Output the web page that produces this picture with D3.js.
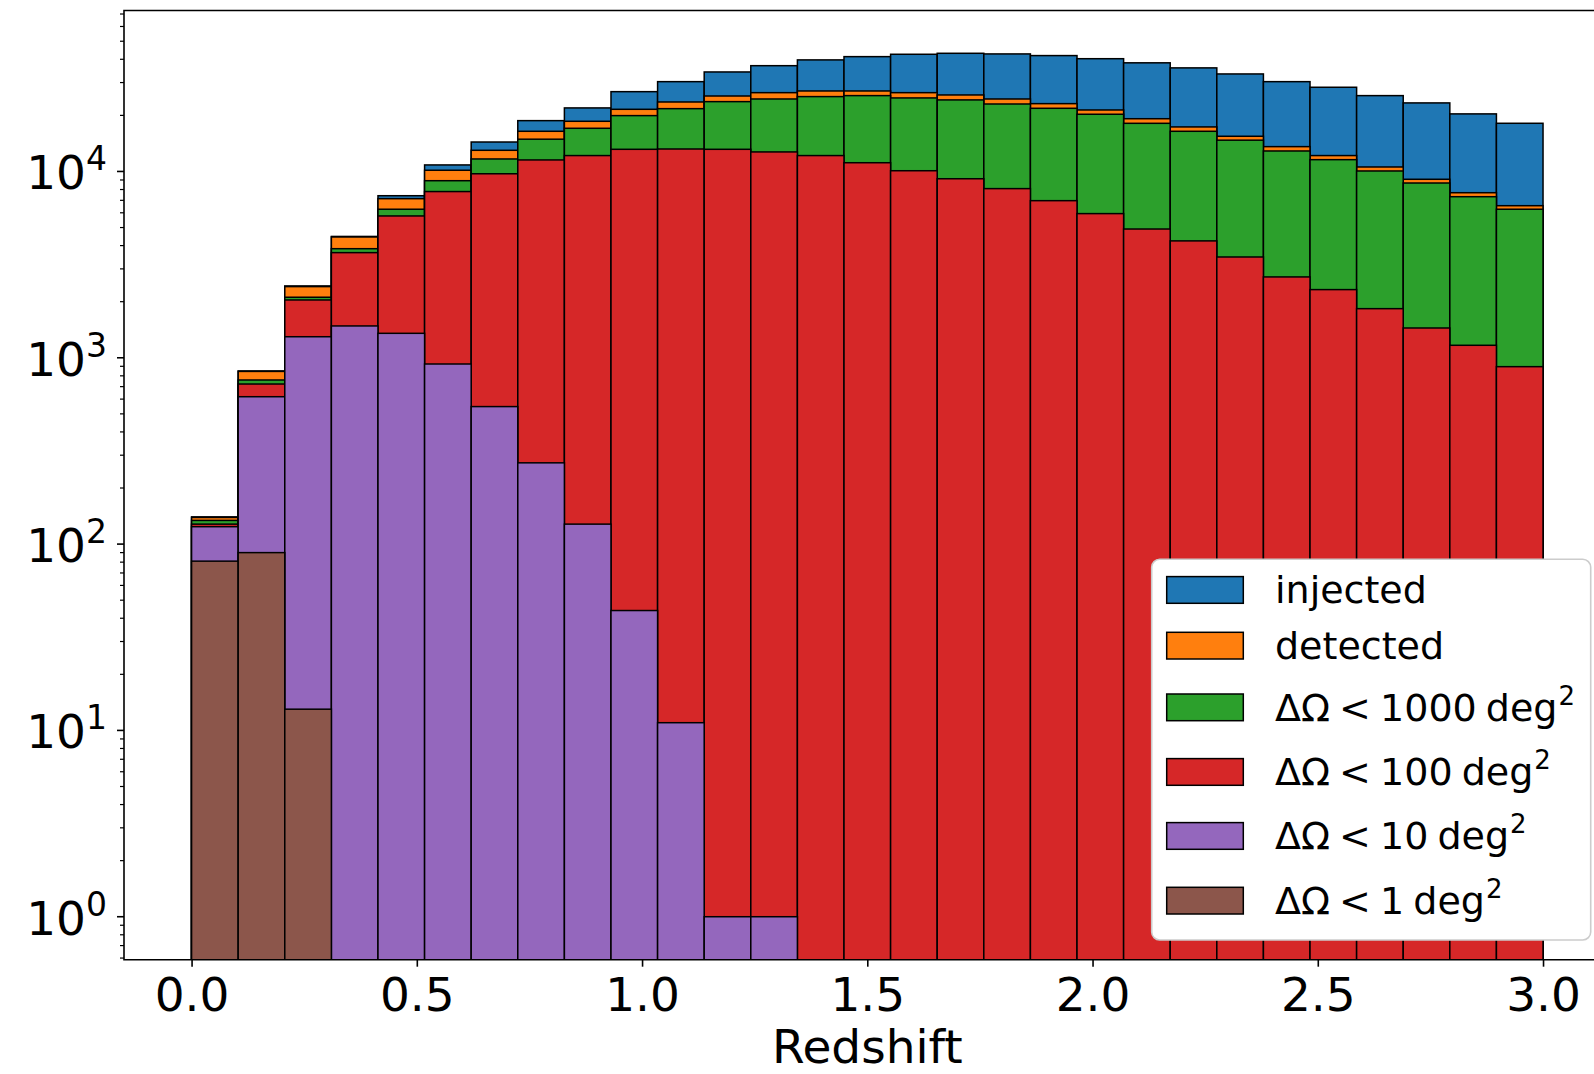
<!DOCTYPE html>
<html>
<head>
<meta charset="utf-8">
<script src="https://cdn.jsdelivr.net/npm/d3@7"></script>
<style>
  body { margin: 0; background: white; }
  svg { display: block; font-family: "DejaVu Sans", sans-serif; }
</style>
</head>
<body>
<div id="chart"></div>
<script>
// 29 redshift bins between 0 and 3
let binEdges = d3.range(30).map((i) => (i * 3) / 29);

// counts per bin
let injected = [140, 850, 2430, 4480, 7410, 10840, 14390, 18740, 21930, 26810, 30340, 34200, 36960, 39700, 41330, 42560, 43080, 42740, 41870, 40290, 38290, 35970, 33370, 30340, 28310, 25530, 23330, 20370, 18140];
let detected = [139, 845, 2410, 4450, 7145, 10150, 12990, 16430, 18590, 21560, 23600, 25410, 26480, 27040, 27040, 26480, 25740, 24490, 23120, 21380, 19190, 17340, 15450, 13590, 12170, 10570, 9080, 7690, 6550];
let dOmega1000 = [134, 760, 2113, 3850, 6270, 8920, 11670, 14900, 17050, 19940, 21730, 23700, 24490, 25220, 25530, 24810, 24210, 23020, 21830, 20280, 18130, 16430, 14720, 12880, 11570, 10060, 8670, 7320, 6270];
let dOmega100 = [128, 723, 2043, 3667, 5770, 7800, 9720, 11530, 12170, 13150, 13200, 13150, 12730, 12170, 11140, 10090, 9140, 8090, 6970, 5940, 4910, 4240, 3475, 2716, 2322, 1835, 1445, 1167, 896];
let dOmega10 = [124, 618, 1297, 1482, 1353, 926, 547, 273, 128, 44, 11, 1, 1, 0, 0, 0, 0, 0, 0, 0, 0, 0, 0, 0, 0, 0, 0, 0, 0];
let dOmega1 = [81, 90, 13, 0, 0, 0, 0, 0, 0, 0, 0, 0, 0, 0, 0, 0, 0, 0, 0, 0, 0, 0, 0, 0, 0, 0, 0, 0, 0];

let seriesNames = ["injected", "detected", "1000", "100", "10", "1"];
let seriesValues = [injected, detected, dOmega1000, dOmega100, dOmega10, dOmega1];
let colors = ["#1f77b4", "#ff7f0e", "#2ca02c", "#d62728", "#9467bd", "#8c564b"];

let xTicks = [0, 0.5, 1.0, 1.5, 2.0, 2.5, 3.0];
let yTickExps = [0, 1, 2, 3, 4];

let svgWidth = 1594;
let svgHeight = 1074;
let plotLeft = 124;
let plotRight = 1610.6;
let plotTop = 10.5;
let plotBottom = 959.7;

let xScale = d3.scaleLinear().domain([-0.15, 3.15]).range([plotLeft, plotRight]);
let yScale = d3.scaleLog().domain([0.588, 73100]).range([plotBottom, plotTop]);

let svg = d3
  .select("#chart")
  .append("svg")
  .attr("width", svgWidth)
  .attr("height", svgHeight);

svg
  .append("clipPath")
  .attr("id", "plotclip")
  .append("rect")
  .attr("x", plotLeft)
  .attr("y", plotTop)
  .attr("width", plotRight - plotLeft)
  .attr("height", plotBottom - plotTop);

let plot = svg.append("g").attr("clip-path", "url(#plotclip)");

// overlapping histograms, largest first
seriesValues.forEach((vals, k) => {
  let bars = vals
    .map((v, i) => ({ v: v, x0: binEdges[i], x1: binEdges[i + 1] }))
    .filter((d) => d.v > 0);
  plot
    .append("g")
    .selectAll("rect")
    .data(bars)
    .enter()
    .append("rect")
    .attr("x", (d) => xScale(d.x0))
    .attr("width", (d) => xScale(d.x1) - xScale(d.x0))
    .attr("y", (d) => yScale(d.v))
    .attr("height", (d) => plotBottom + 5 - yScale(d.v))
    .attr("fill", colors[k])
    .attr("stroke", "black")
    .attr("stroke-width", 1.5);
});

// spines
svg
  .append("path")
  .attr("d", "M" + plotRight + "," + plotBottom + "H" + plotLeft + "V" + plotTop + "H" + plotRight)
  .attr("fill", "none")
  .attr("stroke", "black")
  .attr("stroke-width", 1.6);

// x axis
let xAxis = d3
  .axisBottom(xScale)
  .tickValues(xTicks)
  .tickFormat(d3.format(".1f"))
  .tickSize(7)
  .tickPadding(11);
let gx = svg
  .append("g")
  .attr("transform", "translate(0," + plotBottom + ")")
  .call(xAxis);
gx.select(".domain").remove();
gx.selectAll("line").attr("stroke-width", 1.6);
gx.selectAll("text")
  .attr("font-size", 47)
  .attr("font-family", "DejaVu Sans")
  .attr("fill", "black");

svg
  .append("text")
  .text("Redshift")
  .attr("x", (plotLeft + plotRight) / 2)
  .attr("y", 1063)
  .attr("text-anchor", "middle")
  .attr("font-size", 47)
  .attr("fill", "black");

// y axis, log ticks
let minorTicks = [];
for (let e = -1; e <= 4; e++) {
  for (let m = 2; m <= 9; m++) {
    let v = m * Math.pow(10, e);
    if (v > 0.588 && v < 73100) minorTicks.push(v);
  }
}
svg
  .append("g")
  .selectAll("line")
  .data(minorTicks)
  .enter()
  .append("line")
  .attr("x1", plotLeft - 4)
  .attr("x2", plotLeft)
  .attr("y1", (d) => yScale(d))
  .attr("y2", (d) => yScale(d))
  .attr("stroke", "black")
  .attr("stroke-width", 1.2);

svg
  .append("g")
  .selectAll("line")
  .data(yTickExps)
  .enter()
  .append("line")
  .attr("x1", plotLeft - 7)
  .attr("x2", plotLeft)
  .attr("y1", (d) => yScale(Math.pow(10, d)))
  .attr("y2", (d) => yScale(Math.pow(10, d)))
  .attr("stroke", "black")
  .attr("stroke-width", 1.6);

let yLabels = svg
  .append("g")
  .selectAll("text")
  .data(yTickExps)
  .enter()
  .append("text")
  .attr("x", 107)
  .attr("y", (d) => yScale(Math.pow(10, d)) + 18)
  .attr("text-anchor", "end")
  .attr("font-size", 47)
  .attr("fill", "black");
yLabels.append("tspan").text("10");
yLabels
  .append("tspan")
  .attr("dy", -19)
  .attr("font-size", 33)
  .text((d) => d);

// legend
let legend = svg.append("g");
legend
  .append("rect")
  .attr("x", 1151.7)
  .attr("y", 559.3)
  .attr("width", 439)
  .attr("height", 380.7)
  .attr("rx", 8)
  .attr("fill", "white")
  .attr("stroke", "#cccccc")
  .attr("stroke-width", 1.6);

let legendBaselines = [603.3, 659, 720.7, 785.3, 849.3, 914];

seriesNames.forEach((name, i) => {
  let base = legendBaselines[i];
  legend
    .append("rect")
    .attr("x", 1166.7)
    .attr("y", base - 26.7)
    .attr("width", 76.6)
    .attr("height", 26.7)
    .attr("fill", colors[i])
    .attr("stroke", "black")
    .attr("stroke-width", 1.5);
  let t = legend
    .append("text")
    .attr("x", 1275)
    .attr("y", base)
    .attr("font-size", 38)
    .attr("fill", "black");
  if (i < 2) {
    t.text(name);
  } else {
    t.attr("word-spacing", -3);
    t.append("tspan").text("\u0394\u03A9 < " + name + " deg");
    t.append("tspan").attr("dx", 1).attr("dy", -16).attr("font-size", 26).text("2");
  }
});
</script>
</body>
</html>
